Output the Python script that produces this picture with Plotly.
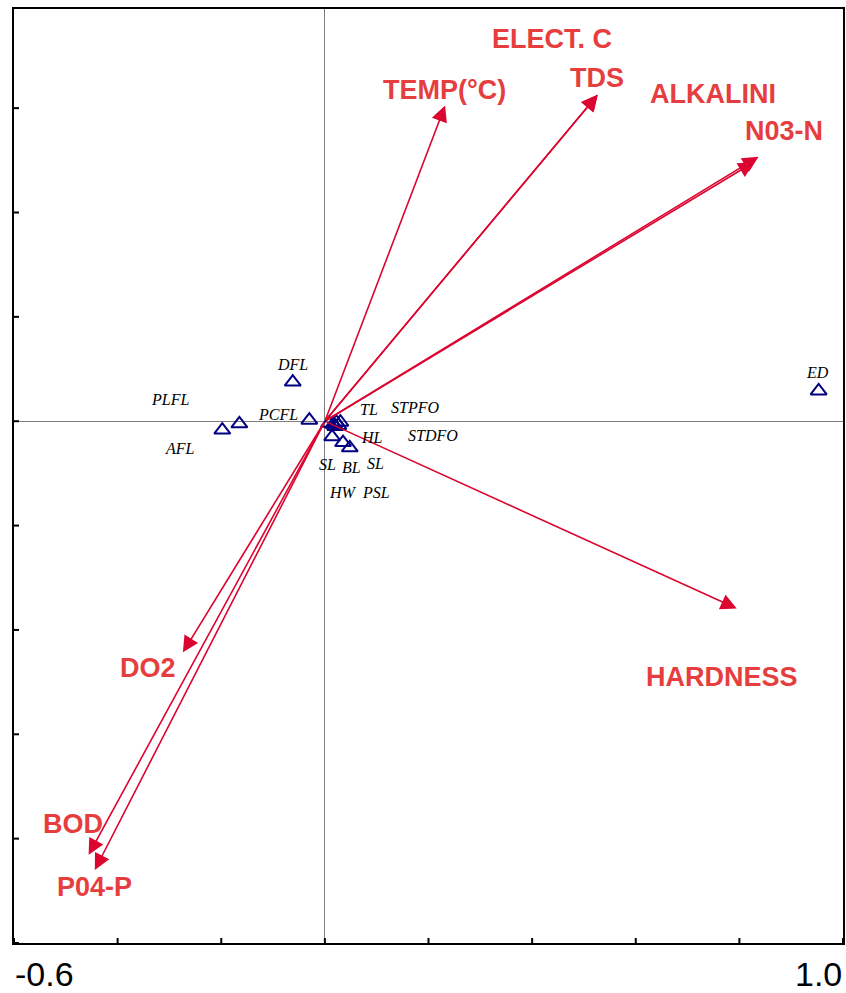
import plotly.graph_objects as go

# Environmental variables (biplot arrows): end coordinates on axes 1 and 2
env_names = ["TEMP(°C)", "ELECT. C", "TDS", "ALKALINI", "N03-N",
             "HARDNESS", "DO2", "BOD", "P04-P"]
env_x = [0.232, 0.526, 0.527, 0.829, 0.837, 0.795, -0.274, -0.456, -0.444]
env_y = [0.605, 0.625, 0.626, 0.497, 0.507, -0.359, -0.443, -0.831, -0.860]

# Sampling sites: scores on axes 1 and 2
site_names = ["DFL", "PLFL", "AFL", "PCFL", "TL", "STPFO", "HL", "STDFO",
              "SL", "BL", "SL", "HW", "PSL", "ED"]
site_x = [-0.062, -0.165, -0.198, -0.030, 0.022, 0.030, 0.016, 0.026,
          0.014, 0.035, 0.048, 0.008, 0.020, 0.953]
site_y = [0.075, -0.005, -0.017, 0.002, -0.002, -0.002, -0.006, -0.008,
          -0.030, -0.041, -0.051, -0.004, -0.010, 0.058]

# Axis ticks
x_ticks = [-0.6, -0.4, -0.2, 0.0, 0.2, 0.4, 0.6, 0.8, 1.0]
y_ticks = [-1.0, -0.8, -0.6, -0.4, -0.2, 0.0, 0.2, 0.4, 0.6]
x_tick_labels = {-0.6: "-0.6", 1.0: "1.0"}

X_RANGE = [-0.6, 1.0]
Y_RANGE = [-1.0, 0.79]

# Label placement (pixel offsets from the point / arrow tip)
env_label_shift = [(-1, 16), (-45, 56), (-1, 17), (-41, 68), (25, 26),
                   (-15, -68), (-35, -16), (-16, 31), (0, -17)]
site_label_shift = [(0, 18), (-69, 24), (-42, -18), (-31, 6), (33, 13),
                    (75, 15), (39, -13), (95, -10), (-5, -28), (8, -25),
                    (26, -16), (14, -69), (41, -66), (-1, 18)]

ARROW_COLOR = "#DC0530"
LABEL_COLOR = "#E63E3E"
SITE_COLOR = "#000080"

fig = go.Figure()

fig.add_trace(go.Scatter(
    x=site_x, y=site_y, mode="markers",
    marker=dict(symbol="triangle-up-open", size=14, color=SITE_COLOR,
                line=dict(width=2, color=SITE_COLOR)),
    hoverinfo="text", text=site_names, showlegend=False,
))

annotations = []

# Arrows from the origin to each environmental variable
for name, ex, ey, (dx, dy) in zip(env_names, env_x, env_y, env_label_shift):
    annotations.append(dict(
        x=ex, y=ey, ax=0, ay=0, xref="x", yref="y", axref="x", ayref="y",
        text="", showarrow=True, arrowhead=2, arrowsize=2.0, arrowwidth=1.6,
        arrowcolor=ARROW_COLOR, standoff=0, startstandoff=0,
    ))
    annotations.append(dict(
        x=ex, y=ey, xref="x", yref="y", text=name, showarrow=False,
        xshift=dx, yshift=dy, xanchor="center", yanchor="middle",
        font=dict(family="Liberation Sans, Arial, sans-serif", size=27,
                  color=LABEL_COLOR, weight="bold"),
    ))

# Site labels
for name, sx, sy, (dx, dy) in zip(site_names, site_x, site_y, site_label_shift):
    annotations.append(dict(
        x=sx, y=sy, xref="x", yref="y", text=name, showarrow=False,
        xshift=dx, yshift=dy, xanchor="center", yanchor="middle",
        font=dict(family="Liberation Serif, Times New Roman, serif", size=16,
                  color="black", style="italic"),
    ))

# Tick labels at the ends of the horizontal axis
for v, lab in x_tick_labels.items():
    annotations.append(dict(
        x=v, y=Y_RANGE[0], xref="x", yref="y", text=lab, showarrow=False,
        xanchor="left" if v == X_RANGE[0] else "right",
        yanchor="middle", yshift=-31, borderpad=0,
        font=dict(family="Liberation Sans, Arial, sans-serif", size=34,
                  color="black"),
    ))

# Tick marks crossing the axis lines
shapes = []
for v in x_ticks:
    shapes.append(dict(type="line", xref="x", yref="y", ysizemode="pixel",
                       yanchor=Y_RANGE[0], x0=v, x1=v, y0=-5, y1=5,
                       line=dict(color="black", width=2)))
for v in y_ticks:
    shapes.append(dict(type="line", xref="x", yref="y", xsizemode="pixel",
                       xanchor=X_RANGE[0], y0=v, y1=v, x0=-5, x1=5,
                       line=dict(color="black", width=2)))

fig.update_layout(
    width=846, height=993,
    margin=dict(l=14, r=1, t=9, b=50),
    paper_bgcolor="white", plot_bgcolor="white",
    annotations=annotations, shapes=shapes,
    xaxis=dict(range=X_RANGE, showgrid=False, showticklabels=False, ticks="",
               zeroline=True, zerolinecolor="#808080", zerolinewidth=1,
               showline=True, linecolor="black", linewidth=2, mirror=True),
    yaxis=dict(range=Y_RANGE, showgrid=False, showticklabels=False, ticks="",
               zeroline=True, zerolinecolor="#808080", zerolinewidth=1,
               showline=True, linecolor="black", linewidth=2, mirror=True),
)

fig.write_html("out.html")
